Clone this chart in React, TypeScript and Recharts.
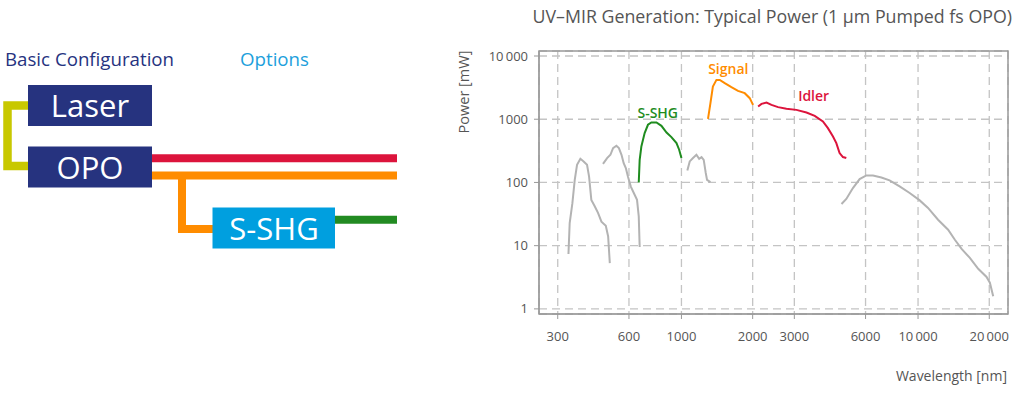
import React from "react";
import { LineChart, Line, XAxis, YAxis, CartesianGrid, ReferenceArea, ReferenceDot } from "recharts";

// wavelength ticks (nm) and power ticks (mW)
const xTicks = [300, 600, 1000, 2000, 3000, 6000, 10000, 20000];
const yTicks = [1, 10, 100, 1000, 10000];

// [wavelength nm, power mW]
const uvHarmonic = [
  [333, 7.4], [337, 22.8], [346, 47], [354, 110], [362, 190], [374, 237], [386, 215],
  [399, 190], [407, 124], [416, 53], [430, 42], [444, 33], [459, 24], [479, 20.7],
  [490, 14], [498, 5.3],
];
const visHarmonic = [
  [466, 197], [485, 243], [501, 274], [514, 349], [531, 380], [544, 349], [558, 274],
  [570, 202], [582, 169], [594, 124], [611, 86], [629, 68], [649, 53], [660, 29], [666, 9.5],
];
const sshg = [
  [660, 100], [666, 228], [677, 371], [699, 603], [722, 817], [746, 887], [784, 887],
  [823, 787], [865, 617], [907, 521], [953, 419], [978, 329], [1000, 243],
];
const nirBand = [
  [1059, 155], [1084, 215], [1119, 243], [1157, 274], [1188, 237], [1216, 252],
  [1242, 228], [1267, 141], [1283, 110], [1326, 101],
];
const signal = [
  [1295, 1015], [1326, 1795], [1358, 3288], [1406, 4190], [1452, 4190], [1524, 3715],
  [1626, 3213], [1734, 2812], [1851, 2583], [1944, 2153], [2007, 1688],
];
const idler = [
  [2109, 1588], [2179, 1750], [2289, 1836], [2402, 1688], [2561, 1553], [2778, 1459],
  [3062, 1406], [3376, 1276], [3658, 1132], [3962, 920], [4160, 723], [4370, 533],
  [4515, 419], [4660, 291], [4815, 252], [4975, 243],
];
const mirDfg = [
  [4748, 45.6], [4975, 54.7], [5306, 81.5], [5664, 113], [6046, 129], [6451, 129],
  [6999, 120], [7579, 108], [8358, 86.5], [9218, 68], [10165, 52], [11020, 39.5],
  [12150, 25.7], [13400, 17.9], [14310, 12.4], [15280, 8.87], [16560, 6.4],
  [17960, 4.3], [19480, 3.2], [20120, 2.6], [20780, 1.58],
];

const FONT = "'Open Sans', sans-serif";
const GRAY = "#b3b3b3";
const GREEN = "#1f8c1f";
const ORANGE = "#ff8c00";
const RED = "#dc143c";
const NAVY = "#26337f";

const toPts = (pairs: number[][]) => pairs.map(([x, y]) => ({ x, y }));

const fmt = (v: number) =>
  v >= 10000 ? `${Math.floor(v / 1000)}\u2009${String(v % 1000).padStart(3, "0")}` : String(v);

const curveText = (text: string, color: string) => (props: any) => (
  <text x={props.cx} y={props.cy} textAnchor="middle" dominantBaseline="central"
    fill={color} fontSize={14} fontWeight={600} fontFamily={FONT}>{text}</text>
);

function Diagram() {
  return (
    <svg width={1024} height={395} style={{ position: "absolute", left: 0, top: 0 }}>
      <text x={5} y={66} fill={NAVY} fontSize={18.7} fontFamily={FONT}>Basic Configuration</text>
      <text x={240} y={66} fill="#1d9fdc" fontSize={18.7} fontFamily={FONT}>Options</text>

      <path d="M28 105.5 H7.5 V166 H28" stroke="#c8c800" strokeWidth={8.5} fill="none" />
      <path d="M152 158.3 H397" stroke={RED} strokeWidth={8} />
      <path d="M152 175.5 H397" stroke={ORANGE} strokeWidth={8} />
      <path d="M182 175.5 V229 H213" stroke={ORANGE} strokeWidth={8} fill="none" />
      <path d="M335 219.7 H397" stroke="#228b22" strokeWidth={8} />

      <rect x={28} y={85} width={124} height={41} fill={NAVY} />
      <rect x={28} y={146.5} width={124} height={41} fill={NAVY} />
      <rect x={212.5} y={207.5} width={122.5} height={41} fill="#009fdf" />
      <text x={90} y={117} textAnchor="middle" fill="#fff" fontSize={31} fontFamily={FONT}>Laser</text>
      <text x={90} y={179} textAnchor="middle" fill="#fff" fontSize={31} fontFamily={FONT}>OPO</text>
      <text x={274} y={240} textAnchor="middle" fill="#fff" fontSize={31} fontFamily={FONT}>S-SHG</text>

      <text x={1012} y={23} textAnchor="end" fill="#555" fontSize={17.8} fontFamily={FONT}>
        UV–MIR Generation: Typical Power (1 µm Pumped fs OPO)
      </text>
      <text transform="translate(469,92) rotate(-90)" textAnchor="middle" fill="#555"
        fontSize={14.5} fontFamily={FONT}>Power [mW]</text>
      <text x={1007} y={381} textAnchor="end" fill="#555" fontSize={14} fontFamily={FONT}>
        Wavelength [nm]
      </text>
    </svg>
  );
}

export default function App() {
  const tick = { fill: "#555", fontSize: 13, fontFamily: FONT };
  return (
    <div style={{ position: "absolute", left: 0, top: 0, width: 1024, height: 395, background: "#fff" }}>
      <Diagram />
      <div style={{ position: "absolute", left: 0, top: 0 }}>
        <LineChart width={1024} height={395} margin={{ top: 51, right: 16, bottom: 51, left: 479 }}>
          <CartesianGrid stroke="#c4c4c4" strokeDasharray="8 5" strokeWidth={1.3} />
          <XAxis type="number" dataKey="x" scale="log" domain={[250, 24000]} allowDataOverflow
            ticks={xTicks} tickFormatter={fmt} tick={tick} tickSize={5} tickMargin={13}
            stroke="#999" height={30} />
          <YAxis type="number" dataKey="y" scale="log" domain={[0.83, 12000]} allowDataOverflow
            ticks={yTicks} tickFormatter={fmt} tick={tick} tickSize={5} tickMargin={6}
            stroke="#999" width={60} />
          <ReferenceArea x1={250} x2={24000} y1={0.83} y2={12000} fill="none" stroke="#999"
            strokeWidth={1.5} />
          <Line data={toPts(uvHarmonic)} dataKey="y" name="uv" stroke={GRAY} strokeWidth={2} dot={false} isAnimationActive={false} />
          <Line data={toPts(visHarmonic)} dataKey="y" name="vis" stroke={GRAY} strokeWidth={2} dot={false} isAnimationActive={false} />
          <Line data={toPts(sshg)} dataKey="y" name="S-SHG" stroke={GREEN} strokeWidth={2} dot={false} isAnimationActive={false} />
          <Line data={toPts(nirBand)} dataKey="y" name="nir" stroke={GRAY} strokeWidth={2} dot={false} isAnimationActive={false} />
          <Line data={toPts(signal)} dataKey="y" name="Signal" stroke={ORANGE} strokeWidth={2} dot={false} isAnimationActive={false} />
          <Line data={toPts(idler)} dataKey="y" name="Idler" stroke={RED} strokeWidth={2} dot={false} isAnimationActive={false} />
          <Line data={toPts(mirDfg)} dataKey="y" name="mir" stroke={GRAY} strokeWidth={2} dot={false} isAnimationActive={false} />
          <ReferenceDot x={794} y={1262} r={0} ifOverflow="visible" shape={curveText("S-SHG", GREEN)} />
          <ReferenceDot x={1578} y={6255} r={0} ifOverflow="visible" shape={curveText("Signal", ORANGE)} />
          <ReferenceDot x={3620} y={2368} r={0} ifOverflow="visible" shape={curveText("Idler", RED)} />
        </LineChart>
      </div>
    </div>
  );
}
